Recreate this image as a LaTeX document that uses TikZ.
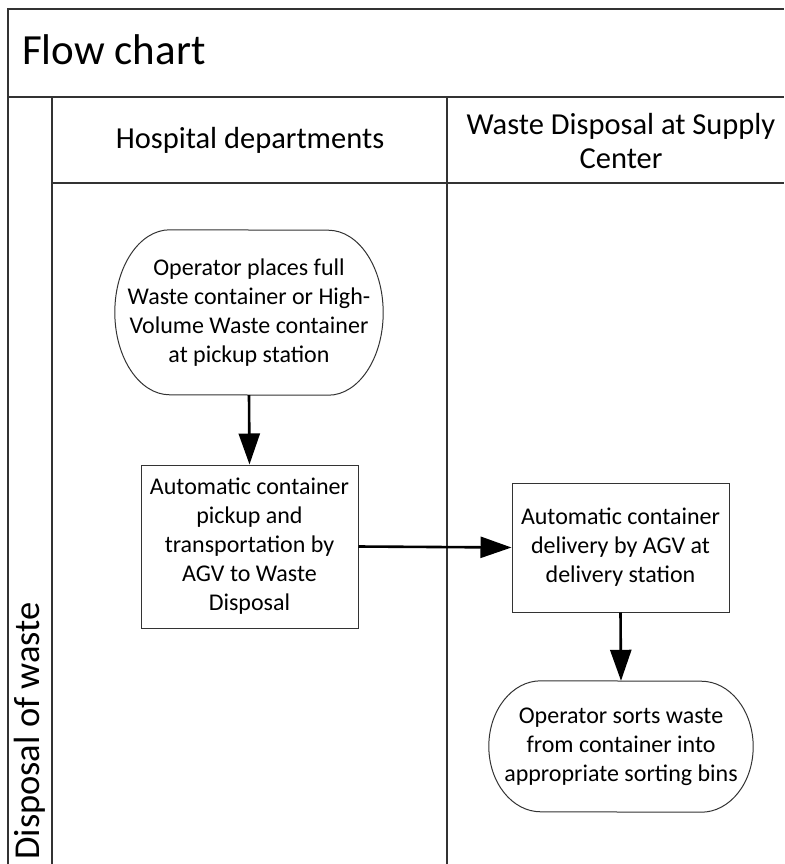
\documentclass[tikz,border=0pt]{standalone}
\usepackage{fontspec}
\setmainfont{Carlito}
\usetikzlibrary{arrows.meta}

\newcommand\bodyfont{\fontsize{24}{29}\selectfont}
\newcommand\lanefont{\fontsize{30.5}{34}\selectfont}

% outline of a terminator: straight top/bottom, half-ellipse ends
% #1 node name, #2 horizontal radius, #3 vertical radius
\newcommand\termoutline[3]{%
  \draw[termline] ([xshift=#2pt]#1.north west)
    arc[start angle=270, end angle=90, x radius=#2, y radius=#3]
    -- ([xshift=-#2pt]#1.south east)
    arc[start angle=90, end angle=-90, x radius=#2, y radius=#3]
    -- cycle;}

\tikzset{
  frame/.style={draw=black!80, line width=1.1pt},
  procbox/.style={draw=black!80, line width=1pt, fill=white, inner sep=0pt,
    align=center, font=\bodyfont},
  termbox/.style={inner sep=0pt, align=center, font=\bodyfont},
  termline/.style={draw=black!80, line width=1pt},
  flow/.style={line width=2.6pt, -{Triangle[length=31pt,width=21pt]}},
  lanetitle/.style={align=center, font=\lanefont, inner sep=0pt},
}

\begin{document}
\begin{tikzpicture}[x=1pt, y=-1pt]
\useasboundingbox (0,0) rectangle (784,864);

% pool frame and lanes
\draw[frame] (8,864) -- (8,9) -- (784,9);
\draw[frame] (8,97) -- (784,97);
\draw[frame] (52,97) -- (52,864);
\draw[frame] (52,183) -- (784,183);
\draw[frame] (447,97) -- (447,864);

% titles
\node[anchor=base west, inner sep=0pt, font=\fontsize{43}{48}\selectfont]
  (title) at (22,65) {Flow chart};
\node[lanetitle] (lane1) at (250,140) {Hospital departments};
\node[lanetitle] (lane2) at (621,141) {Waste Disposal at Supply\\Center};
\node[rotate=90, inner sep=0pt, font=\fontsize{36.5}{40}\selectfont]
  (pool) at (30,731) {Disposal of waste};

% steps
\node[termbox, minimum width=268pt, minimum height=165pt] (t1) at (249,312.5)
  {Operator places full\\Waste container or High-\\Volume Waste container\\at pickup station};
\termoutline{t1}{55}{82.5}

\node[procbox, minimum width=217pt, minimum height=163pt] (r1) at (249.5,546.5)
  {Automatic container\\pickup and\\transportation by\\AGV to Waste\\Disposal};

\node[procbox, minimum width=217pt, minimum height=129pt] (r2) at (620.5,547.5)
  {Automatic container\\delivery by AGV at\\delivery station};

\node[termbox, minimum width=264pt, minimum height=131pt] (t2) at (621,746.5)
  {Operator sorts waste\\from container into\\appropriate sorting bins};
\termoutline{t2}{52}{65.5}

% connectors
\draw[flow] (t1.south) -- (r1.north);
\draw[flow] (r1.east) -- (r2.west);
\draw[flow] (r2.south) -- (t2.north);
\end{tikzpicture}
\end{document}
